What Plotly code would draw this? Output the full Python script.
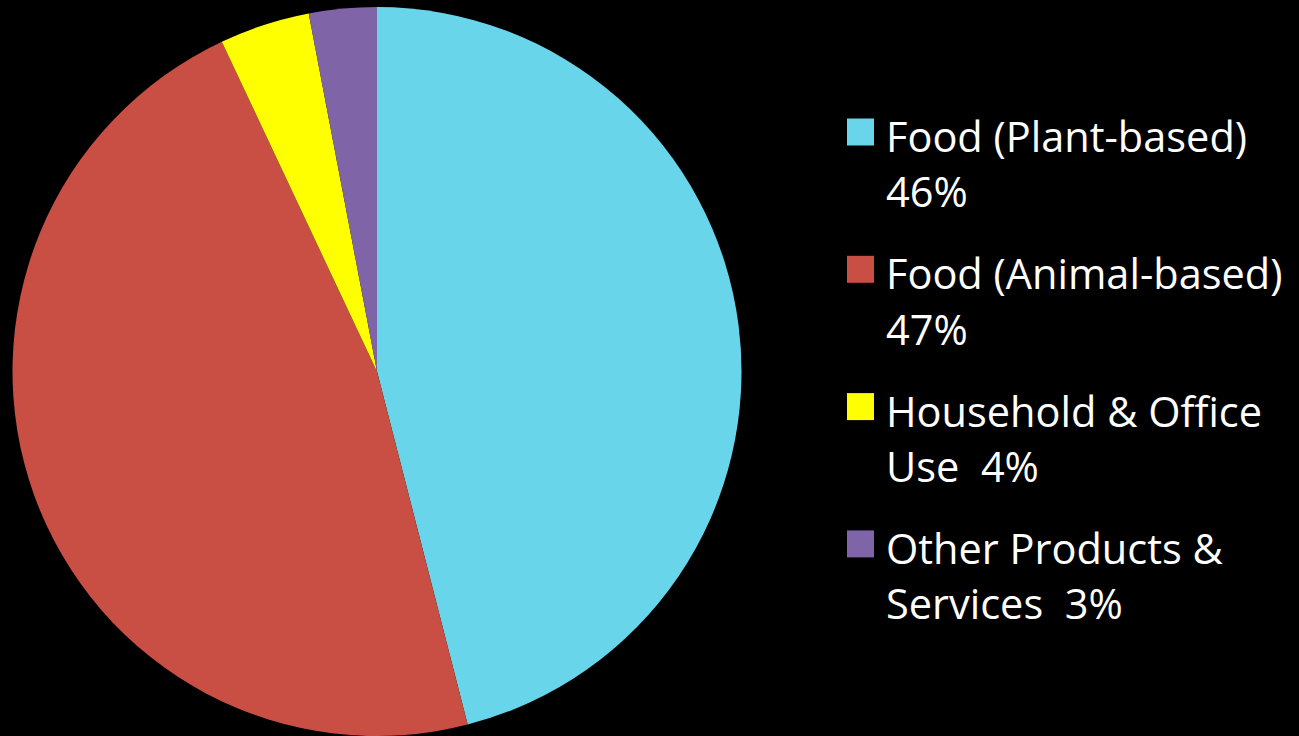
import plotly.graph_objects as go

# ---- data ----
labels = ["Food (Plant-based)", "Food (Animal-based)", "Household & Office Use", "Other Products & Services"]
values = [46, 47, 4, 3]
legend_lines = [
    ["Food (Plant-based)", "46%"],
    ["Food (Animal-based)", "47%"],
    ["Household & Office", "Use  4%"],
    ["Other Products &", "Services  3%"],
]
colors = ["#69D5EA", "#C94E44", "#FFFF00", "#7F64A8"]

# ---- layout constants (pixels) ----
W, H = 1299, 736
cx, cy, r = 377, 371.5, 364.5

fig = go.Figure()
fig.add_trace(go.Pie(
    labels=labels,
    values=values,
    sort=False,
    direction="clockwise",
    rotation=0,
    textinfo="none",
    hoverinfo="label+percent",
    marker=dict(colors=colors, line=dict(width=0)),
    domain=dict(x=[(cx - r) / W, (cx + r) / W], y=[1 - (cy + r) / H, 1 - (cy - r) / H]),
    showlegend=False,
))

# ---- manual legend ----
first_center = 136
item_pitch = 137.3
line_pitch = 55.5
text_x = 884
sq_x0, sq_size = 847, 27
font = dict(family="Open Sans", size=41.5, color="white")

shapes = []
annotations = []
for i, lines in enumerate(legend_lines):
    yc = first_center + i * item_pitch
    my = yc - 4
    shapes.append(dict(
        type="rect", xref="paper", yref="paper",
        x0=sq_x0 / W, x1=(sq_x0 + sq_size) / W,
        y0=1 - (my + sq_size / 2) / H, y1=1 - (my - sq_size / 2) / H,
        fillcolor=colors[i], line=dict(width=0),
    ))
    for j, t in enumerate(lines):
        annotations.append(dict(
            text=t, xref="paper", yref="paper",
            x=text_x / W, y=1 - (yc + j * line_pitch) / H,
            xanchor="left", yanchor="middle", showarrow=False, font=font,
        ))

fig.update_layout(
    width=W, height=H,
    margin=dict(l=0, r=0, t=0, b=0),
    paper_bgcolor="black", plot_bgcolor="black",
    shapes=shapes, annotations=annotations,
)

fig.write_html("out.html")
